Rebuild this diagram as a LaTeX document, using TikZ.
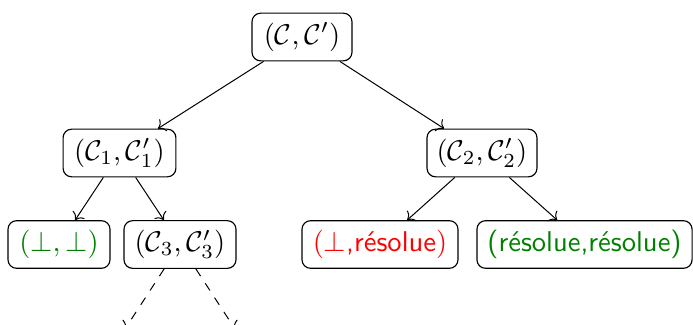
\documentclass[tikz,border=0pt]{standalone}
\usepackage{fontspec}
\usepackage{sansmath}
\usetikzlibrary{arrows.meta}
\definecolor{dgreen}{rgb}{0,0.5,0}
\tikzset{
  box/.style={draw, rounded corners=3pt, line width=0.4pt, font=\sffamily\sansmath, minimum height=16pt, inner xsep=2pt, align=center},
  edge/.style={->, line width=0.35pt},
  dedge/.style={->, dashed, line width=0.35pt}
}
\begin{document}
\begin{tikzpicture}[x=0.35pt,y=-0.35pt]
\useasboundingbox (0,0) rectangle (693,324);
\node[box, minimum width=35pt] (r) at (302,37) {$(\mathcal{C},\mathcal{C}')$};
\node[box, minimum width=39.5pt] (c1) at (119.5,153) {$(\mathcal{C}_1,\mathcal{C}_1')$};
\node[box, minimum width=38.5pt] (c2) at (482,153) {$(\mathcal{C}_2,\mathcal{C}_2')$};
\node[box, minimum width=35.7pt, text=dgreen] (bb) at (59,244.5) {$(\bot,\bot)$};
\node[box, minimum width=39.2pt] (c3) at (180,244.5) {$(\mathcal{C}_3,\mathcal{C}_3')$};
\node[box, minimum width=54.6pt, text=red] (br) at (380,244.5) {$(\bot$,résolue$)$};
\node[box, minimum width=75.3pt, text=dgreen] (rr) at (584.5,244.5) {(résolue,résolue)};
\coordinate (d1) at (125,329);
\coordinate (d2) at (235,329);
\draw[edge] (r) -- (c1);
\draw[edge] (r) -- (c2);
\draw[edge] (c1) -- (bb);
\draw[edge] (c1) -- (c3);
\draw[edge] (c2) -- (br);
\draw[edge] (c2) -- (rr);
\draw[dedge] (c3) -- (d1);
\draw[dedge] (c3) -- (d2);
\end{tikzpicture}
\end{document}
